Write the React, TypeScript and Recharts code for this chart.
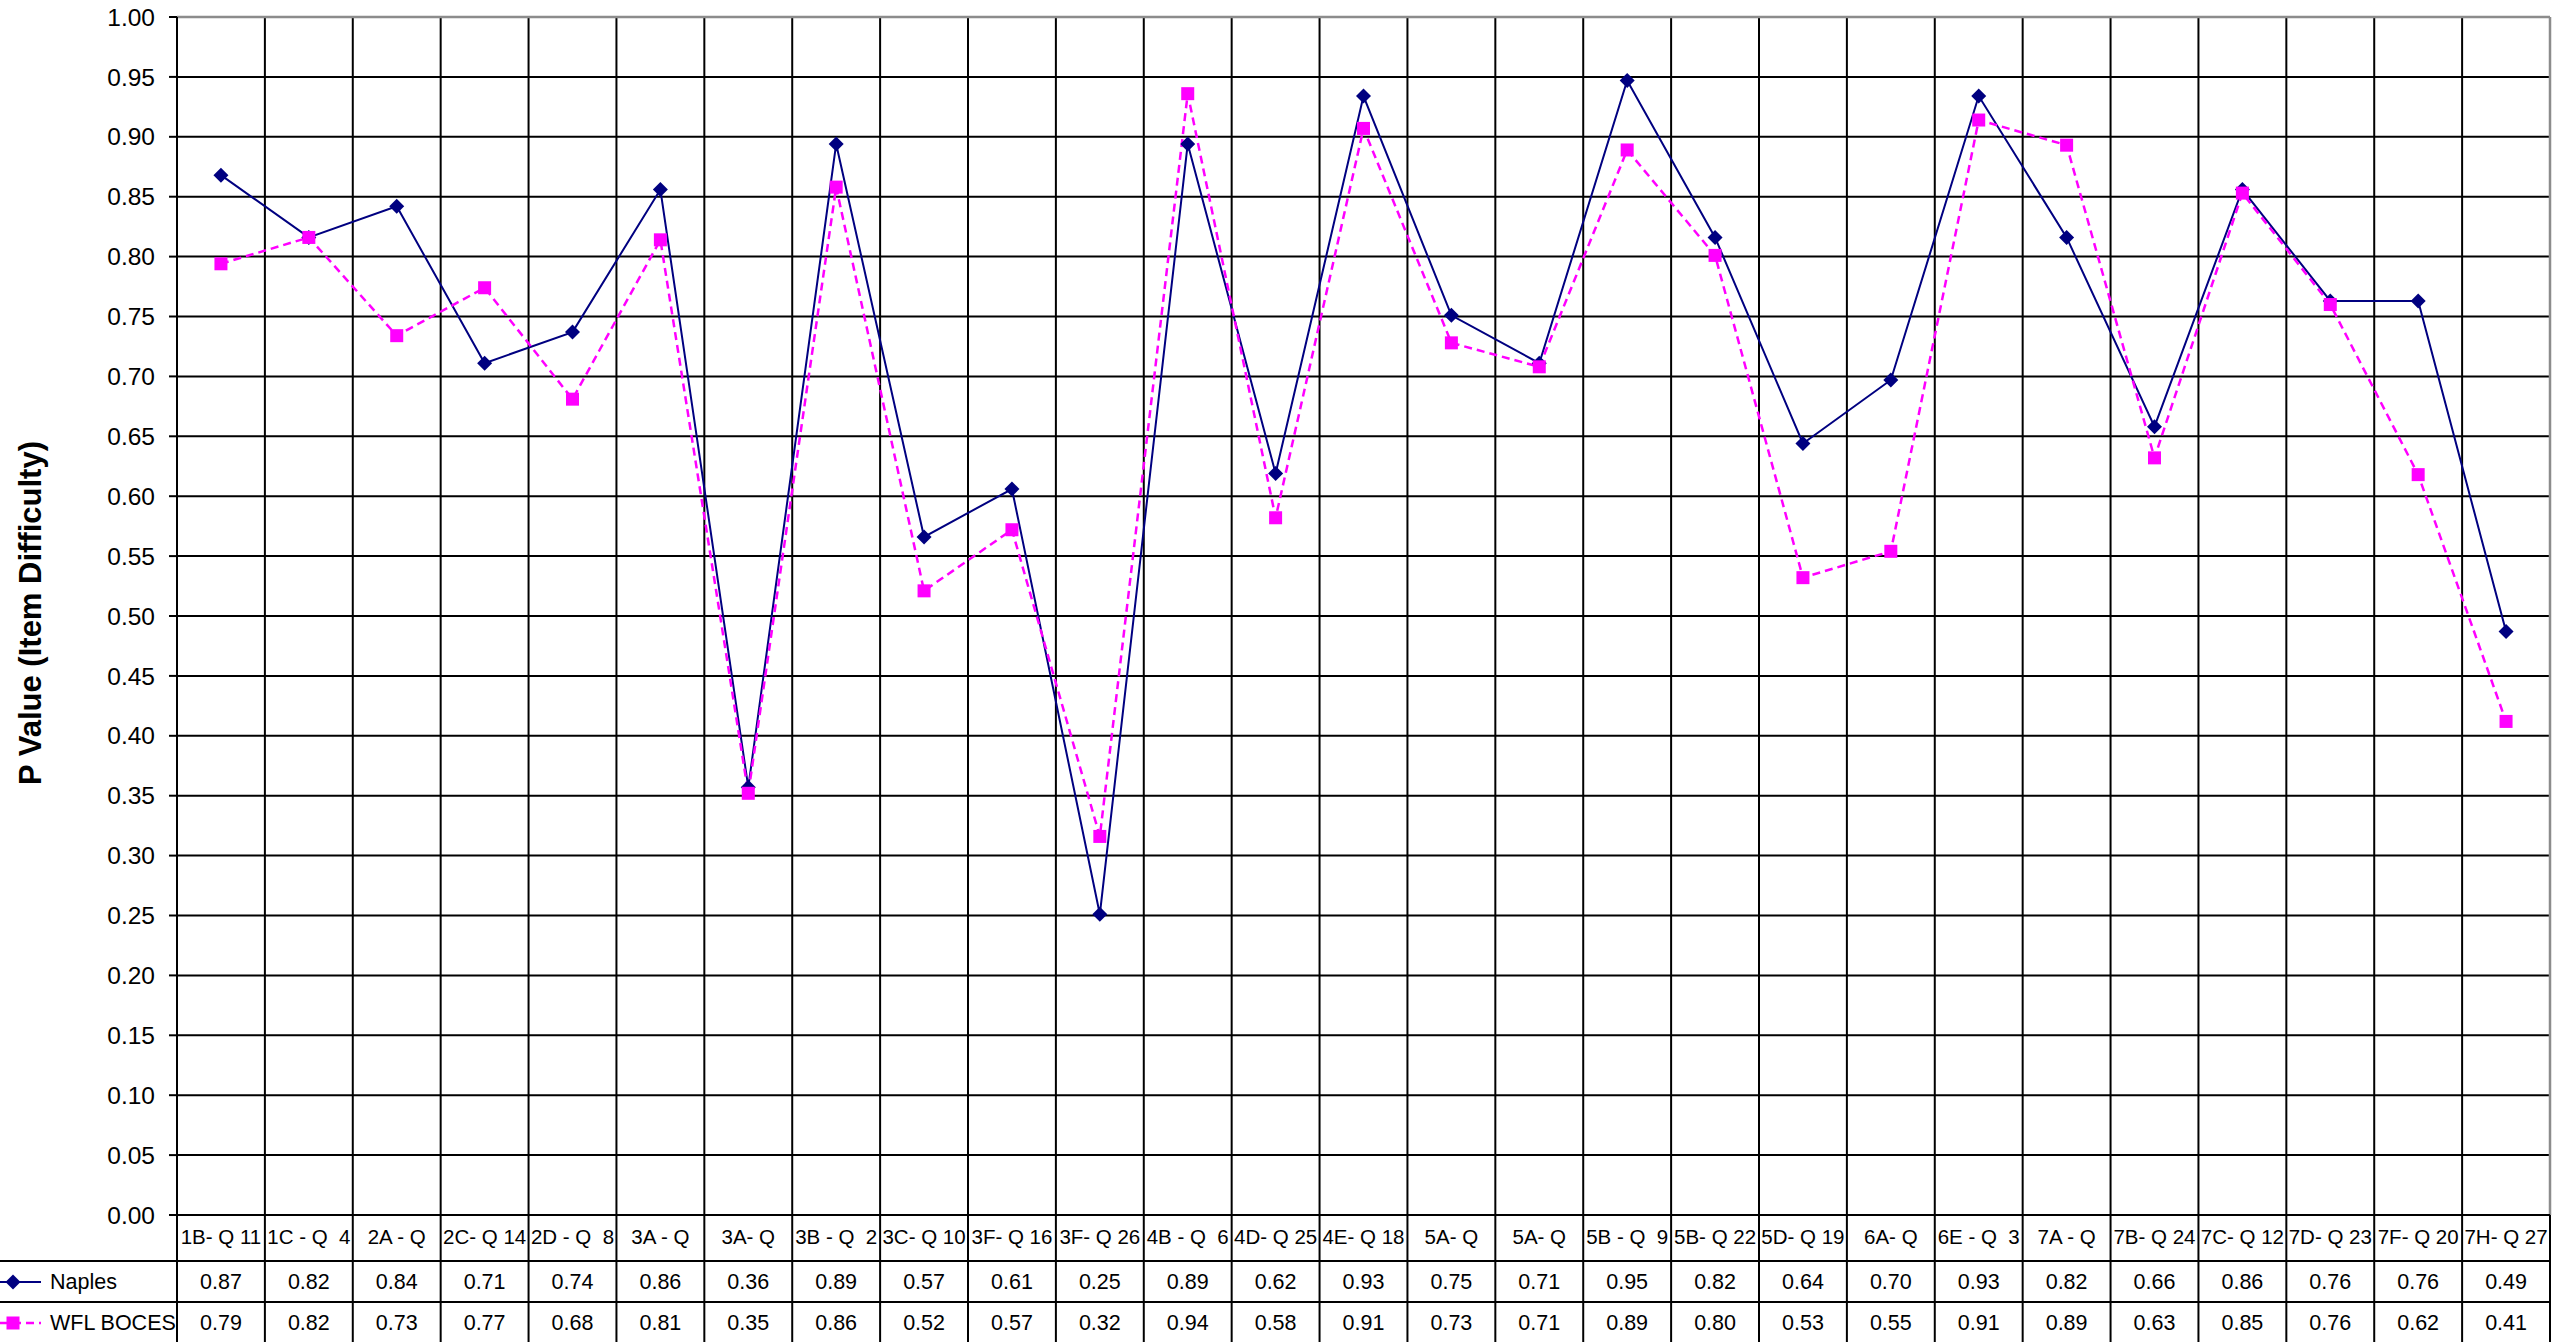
import { LineChart, Line, XAxis, YAxis, CartesianGrid, Label } from "recharts";

const categorias = [
  "1B- Q 11", "1C - Q  4", "2A - Q", "2C- Q 14", "2D - Q  8", "3A - Q", "3A- Q",
  "3B - Q  2", "3C- Q 10", "3F- Q 16", "3F- Q 26", "4B - Q  6", "4D- Q 25", "4E- Q 18",
  "5A- Q", "5A- Q", "5B - Q  9", "5B- Q 22", "5D- Q 19", "6A- Q", "6E - Q  3",
  "7A - Q", "7B- Q 24", "7C- Q 12", "7D- Q 23", "7F- Q 20", "7H- Q 27",
];

const naples = [
  0.868, 0.816, 0.842, 0.711, 0.737, 0.856, 0.357, 0.894, 0.566, 0.606, 0.251, 0.894, 0.619, 0.934,
  0.751, 0.711, 0.947, 0.816, 0.644, 0.697, 0.934, 0.816, 0.658, 0.856, 0.763, 0.763, 0.487,
];

const wflBoces = [
  0.794, 0.816, 0.734, 0.774, 0.681, 0.814, 0.352, 0.858, 0.521, 0.572, 0.316, 0.936, 0.582, 0.907,
  0.728, 0.708, 0.889, 0.801, 0.532, 0.554, 0.914, 0.893, 0.632, 0.853, 0.760, 0.618, 0.412,
];

const yTicks = [
  0, 0.05, 0.1, 0.15, 0.2, 0.25, 0.3, 0.35, 0.4, 0.45, 0.5,
  0.55, 0.6, 0.65, 0.7, 0.75, 0.8, 0.85, 0.9, 0.95, 1,
];

const W = 2575;
const H = 1342;
const PLOT_LEFT = 177;
const PLOT_RIGHT = 2550;
const PLOT_TOP = 17;
const PLOT_BOTTOM = 1215;
const COL_W = (PLOT_RIGHT - PLOT_LEFT) / categorias.length;
const FONT = '"Liberation Sans", Arial, sans-serif';
const NAVY = "#000080";
const MAGENTA = "#FF00FF";
const LINHA = 2;

const data = categorias.map((cat, i) => ({ cat, naples: naples[i], wfl: wflBoces[i] }));

const losango = (cx: number, cy: number, r: number, cor: string, key?: string) => (
  <polygon
    key={key}
    points={`${cx},${cy - r} ${cx + r},${cy} ${cx},${cy + r} ${cx - r},${cy}`}
    fill={cor}
  />
);

const quadrado = (cx: number, cy: number, r: number, cor: string, key?: string) => (
  <rect key={key} x={cx - r} y={cy - r} width={r * 2} height={r * 2} fill={cor} />
);

const DotNaples = (p: any) => losango(p.cx, p.cy, 7.5, NAVY, `n-${p.index}`);
const DotWfl = (p: any) => quadrado(p.cx, p.cy, 6.5, MAGENTA, `w-${p.index}`);

const textoTabela = {
  fontFamily: FONT,
  fontSize: 21.5,
  fill: "#000",
  textAnchor: "middle" as const,
  style: { whiteSpace: "pre" as const },
};

const TabelaTick = (props: any) => {
  const { x, y, payload } = props;
  const i: number = props.index ?? payload.index;
  const right = x + COL_W / 2;
  const bottom = y + (H - PLOT_BOTTOM);
  const linha1 = y + 46;
  const linha2 = y + 87;
  return (
    <g>
      {i === 0 && (
        <g>
          <line x1={0} x2={PLOT_RIGHT} y1={linha1} y2={linha1} stroke="#000" strokeWidth={LINHA} />
          <line x1={0} x2={PLOT_RIGHT} y1={linha2} y2={linha2} stroke="#000" strokeWidth={LINHA} />
          <line x1={x - COL_W / 2} x2={x - COL_W / 2} y1={y} y2={bottom} stroke="#000" strokeWidth={LINHA} />
          <line x1={0} x2={41} y1={y + 67} y2={y + 67} stroke={NAVY} strokeWidth={2} />
          {losango(13, y + 67, 7.5, NAVY)}
          <text x={50} y={y + 74} fontFamily={FONT} fontSize={21.5} fill="#000">Naples</text>
          <line x1={0} x2={41} y1={y + 108} y2={y + 108} stroke={MAGENTA} strokeWidth={2.5} strokeDasharray="8 5" />
          {quadrado(13, y + 108, 6.5, MAGENTA)}
          <text x={50} y={y + 115} fontFamily={FONT} fontSize={21.5} fill="#000">WFL BOCES</text>
        </g>
      )}
      <line x1={right} x2={right} y1={y} y2={bottom} stroke="#000" strokeWidth={LINHA} />
      <text x={x} y={y + 29} {...textoTabela} fontSize={20.5}>{payload.value}</text>
      <text x={x} y={y + 74} {...textoTabela}>{naples[i].toFixed(2)}</text>
      <text x={x} y={y + 115} {...textoTabela}>{wflBoces[i].toFixed(2)}</text>
    </g>
  );
};

const App = () => {
  return (
    <div style={{ position: "absolute", left: 0, top: 0, width: W, height: H, background: "#fff" }}>
      <LineChart
        width={W}
        height={H}
        data={data}
        margin={{ top: PLOT_TOP, right: W - PLOT_RIGHT, bottom: 0, left: 0 }}
      >
        <CartesianGrid
          stroke="#000"
          strokeWidth={LINHA}
          verticalCoordinatesGenerator={({ offset }: any) =>
            categorias.slice(1).map((_, i) => offset.left + ((i + 1) * offset.width) / categorias.length)
          }
        />
        <CartesianGrid
          stroke="#8c8c8c"
          strokeWidth={2.5}
          horizontalCoordinatesGenerator={({ offset }: any) => [offset.top]}
          verticalCoordinatesGenerator={({ offset }: any) => [offset.left + offset.width]}
        />
        <XAxis
          dataKey="cat"
          interval={0}
          height={H - PLOT_BOTTOM}
          tickSize={0}
          tickMargin={0}
          padding={{ left: COL_W / 2, right: COL_W / 2 }}
          tickLine={false}
          axisLine={{ stroke: "#000", strokeWidth: LINHA }}
          tick={(p: any) => <TabelaTick {...p} />}
        />
        <YAxis
          domain={[0, 1]}
          ticks={yTicks}
          interval={0}
          width={PLOT_LEFT}
          tickSize={8}
          tickMargin={14}
          tickFormatter={(v: number) => v.toFixed(2)}
          tick={{ fill: "#000", fontSize: 24.5, fontFamily: FONT }}
          axisLine={{ stroke: "#000", strokeWidth: LINHA }}
          tickLine={{ stroke: "#000", strokeWidth: LINHA }}
        >
          <Label
            content={() => (
              <text
                x={30}
                y={613}
                transform="rotate(-90 30 613)"
                textAnchor="middle"
                dominantBaseline="central"
                fontFamily={FONT}
                fontWeight="bold"
                fontSize={31}
                fill="#000"
              >
                P Value (Item Difficulty)
              </text>
            )}
          />
        </YAxis>
        <Line
          type="linear"
          dataKey="naples"
          name="Naples"
          stroke={NAVY}
          strokeWidth={2}
          dot={DotNaples}
          activeDot={false}
          isAnimationActive={false}
        />
        <Line
          type="linear"
          dataKey="wfl"
          name="WFL BOCES"
          stroke={MAGENTA}
          strokeWidth={2.5}
          strokeDasharray="8 5"
          dot={DotWfl}
          activeDot={false}
          isAnimationActive={false}
        />
      </LineChart>
    </div>
  );
};

export default App;
